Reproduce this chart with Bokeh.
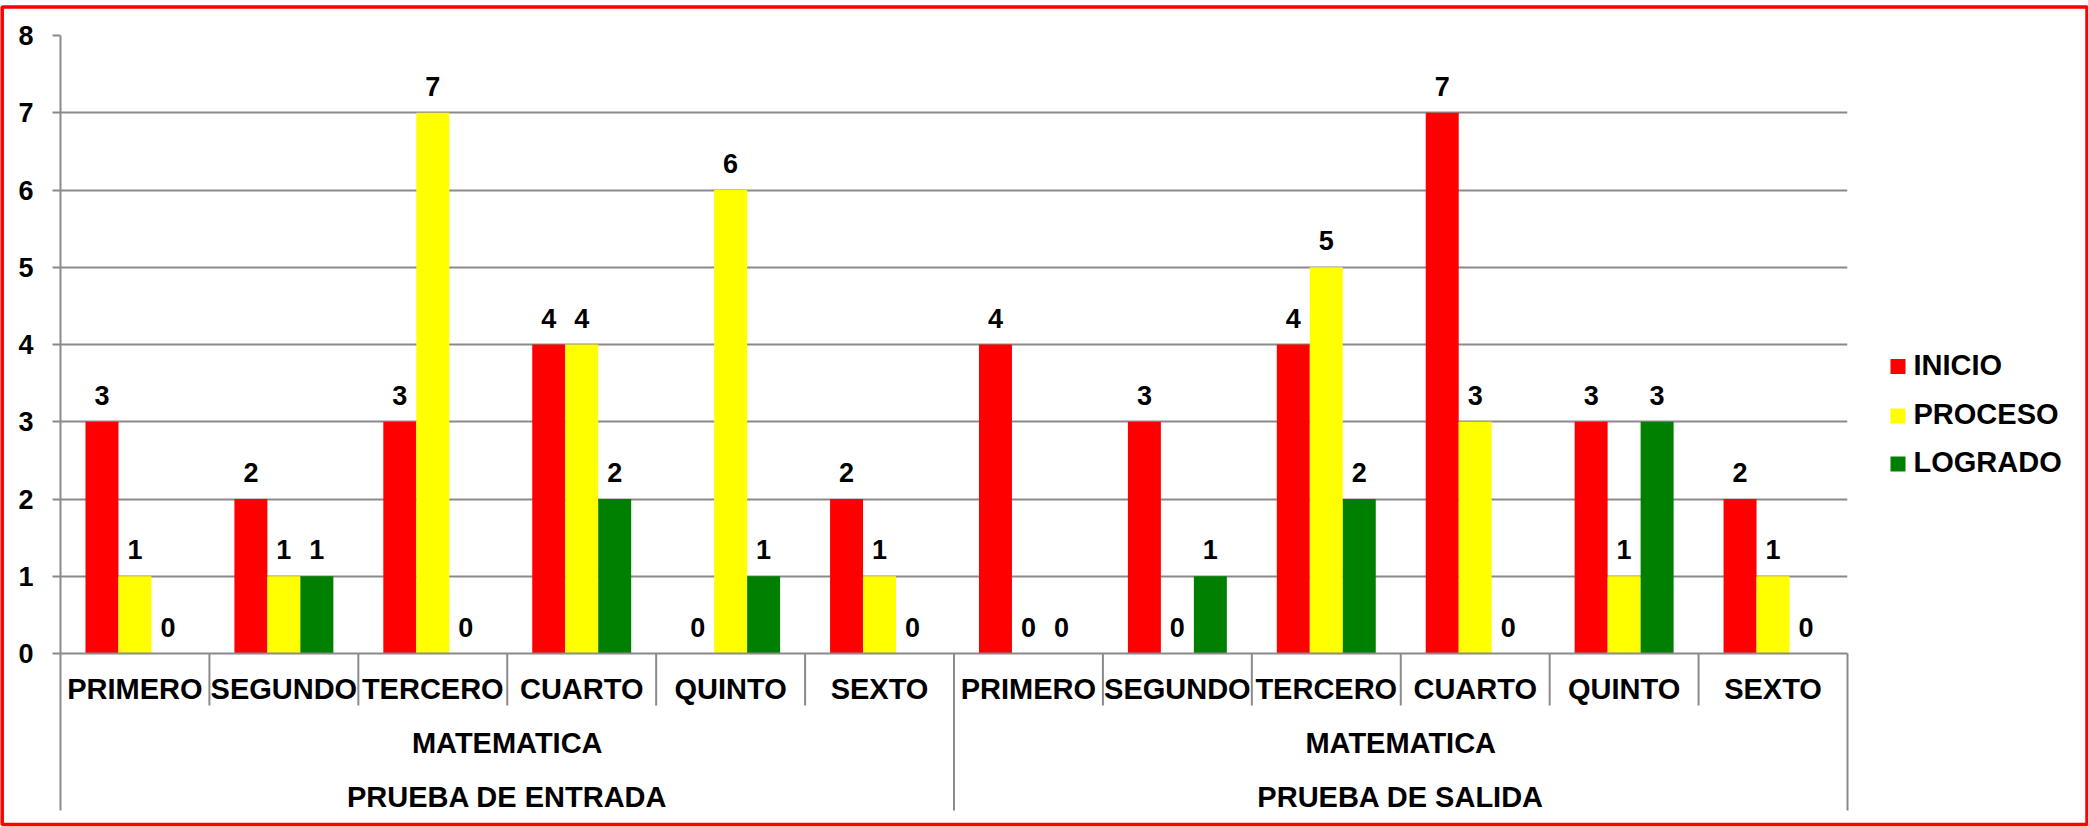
from bokeh.plotting import figure
from bokeh.models import (FactorRange, Range1d, FixedTicker, LabelSet, ColumnDataSource)
from bokeh.transform import dodge
from bokeh.core.properties import value
from bokeh.embed import file_html
from bokeh.resources import INLINE

# ---------------- data ----------------
tests = ["PRUEBA DE ENTRADA", "PRUEBA DE SALIDA"]
subject = "MATEMATICA"
grades = ["PRIMERO", "SEGUNDO", "TERCERO", "CUARTO", "QUINTO", "SEXTO"]
series = ["INICIO", "PROCESO", "LOGRADO"]
colors = ["#FF0000", "#FFFF00", "#008000"]

inicio_entrada = [3, 2, 3, 4, 0, 2]
proceso_entrada = [1, 1, 7, 4, 6, 1]
logrado_entrada = [0, 1, 0, 2, 1, 0]
inicio_salida = [4, 3, 4, 7, 3, 2]
proceso_salida = [0, 0, 5, 3, 1, 1]
logrado_salida = [0, 1, 2, 0, 3, 0]

y_ticks = [0, 1, 2, 3, 4, 5, 6, 7, 8]

# ---------------- layout (pixels) ----------------
FONT = "Liberation Sans"
GRID = "#8a8a8a"
W, H = 2088, 827
FL, FT, FW, FH = 60, 35, 1787, 618          # frame left/top/width/height
FB = FT + FH                                 # frame bottom (y = 0)
NCAT = len(tests) * len(grades)
UX = FW / NCAT                               # px per category
UY = FH / (y_ticks[-1] - y_ticks[0])         # px per y unit


def px_to_y(py):
    return (FB - py) / UY


def px_to_x(px):
    return (px - FL) / UX


factors = [(t, subject, g) for t in tests for g in grades]
vals = {
    "INICIO": inicio_entrada + inicio_salida,
    "PROCESO": proceso_entrada + proceso_salida,
    "LOGRADO": logrado_entrada + logrado_salida,
}
data = {"x": factors}
for s in series:
    data[s] = vals[s]
    data[s + "_t"] = [str(v) for v in vals[s]]
src = ColumnDataSource(data)

x_range = FactorRange(*factors, factor_padding=0, group_padding=0,
                      subgroup_padding=0, range_padding=0)
p = figure(frame_width=FW, frame_height=FH, x_range=x_range,
           y_range=Range1d(y_ticks[0], y_ticks[-1]),
           output_backend="svg", toolbar_location=None,
           min_border_left=FL, min_border_right=W - FL - FW, min_border_top=FT,
           min_border_bottom=H - FB)
p.outline_line_color = None
p.background_fill_color = "white"
p.border_fill_color = "white"

bar_w = 0.2215
offsets = [-bar_w, 0.0, bar_w]
for s, c, off in zip(series, colors, offsets):
    p.vbar(x=dodge("x", off, range=x_range), top=s, width=bar_w, source=src,
           fill_color=c, line_color=None)
    lbl = LabelSet(x=dodge("x", off, range=x_range), y=s, text=s + "_t", source=src,
                   text_align="center", text_baseline="alphabetic", y_offset=17,
                   text_font=value(FONT), text_font_size="27px",
                   text_font_style="bold", text_color="black")
    p.add_layout(lbl)

# separators on the category axis
short_y, long_y = px_to_y(705), px_to_y(810)
sep_src = ColumnDataSource(dict(
    x=factors,
    y0=[0] * len(factors),
    y1=[long_y if i % len(grades) == 0 else short_y for i in range(len(factors))],
))
p.segment(x0=dodge("x", -0.5, range=x_range), y0="y0",
          x1=dodge("x", -0.5, range=x_range), y1="y1", source=sep_src,
          line_color=GRID, line_width=2, level="overlay")
end_src = ColumnDataSource(dict(x=[factors[-1]], y0=[0], y1=[long_y]))
p.segment(x0=dodge("x", 0.5, range=x_range), y0="y0",
          x1=dodge("x", 0.5, range=x_range), y1="y1", source=end_src,
          line_color=GRID, line_width=2, level="overlay")

# red outer frame of the chart
p.quad(left=[px_to_x(1.7)], right=[px_to_x(2086.5)], top=[px_to_y(6.5)],
       bottom=[px_to_y(824)], fill_color=None, line_color="#FF0000",
       line_width=3.5, level="overlay")

# legend (drawn outside the frame, to the right)
leg_cy = [366, 415.5, 463.5]
sq_l, sq_r, half = 1890, 1905, 7.5
anchor_x = px_to_x(FL + FW - 6)   # zero-width spur anchored inside the frame
leg_xs, leg_ys = [], []
for cy in leg_cy:
    ax, bx = px_to_x(sq_l), px_to_x(sq_r)
    my, ty, by = px_to_y(cy), px_to_y(cy - half), px_to_y(cy + half)
    leg_xs.append([anchor_x, ax, ax, bx, bx, ax, ax])
    leg_ys.append([my, my, ty, ty, by, by, my])
leg_sq_src = ColumnDataSource(dict(xs=leg_xs, ys=leg_ys, color=colors))
p.patches(xs="xs", ys="ys", fill_color="color", line_color=None,
          source=leg_sq_src, level="overlay")

leg_src = ColumnDataSource(dict(
    tx=[px_to_x(1913)] * 3,
    ty=[px_to_y(v - 2) for v in leg_cy],
    label=series,
))
p.text(x="tx", y="ty", text="label", source=leg_src, text_align="left",
       text_baseline="alphabetic", text_font=value(FONT), text_font_size="29px",
       text_font_style="bold", text_color="black", level="overlay")

# y axis
yax = p.yaxis[0]
yax.ticker = FixedTicker(ticks=y_ticks)
yax.major_label_text_font = FONT
yax.major_label_text_font_size = "27px"
yax.major_label_text_font_style = "bold"
yax.major_label_text_color = "black"
yax.axis_line_color = GRID
yax.axis_line_width = 2
yax.major_tick_line_color = GRID
yax.major_tick_line_width = 2
yax.major_tick_out = 8
yax.major_tick_in = 0
yax.minor_tick_line_color = None
yax.major_label_standoff = 19

# x axis (3-level categorical)
xax = p.xaxis[0]
xax.major_label_text_font = FONT
xax.major_label_text_font_size = "29px"
xax.major_label_text_font_style = "bold"
xax.major_label_text_color = "black"
xax.group_text_font = FONT
xax.group_text_font_size = "29px"
xax.group_text_font_style = "bold"
xax.group_text_color = "black"
xax.subgroup_text_font = FONT
xax.subgroup_text_font_size = "29px"
xax.subgroup_text_font_style = "bold"
xax.subgroup_text_color = "black"
xax.major_tick_line_color = None
xax.major_tick_out = 0
xax.major_tick_in = 0
xax.axis_line_color = GRID
xax.axis_line_width = 2
xax.separator_line_color = None
xax.major_label_standoff = 19

p.xgrid.grid_line_color = None
p.ygrid.grid_line_color = GRID
p.ygrid.grid_line_width = 2
p.ygrid.ticker = FixedTicker(ticks=y_ticks)

open("out.html", "w").write(file_html(p, INLINE))
